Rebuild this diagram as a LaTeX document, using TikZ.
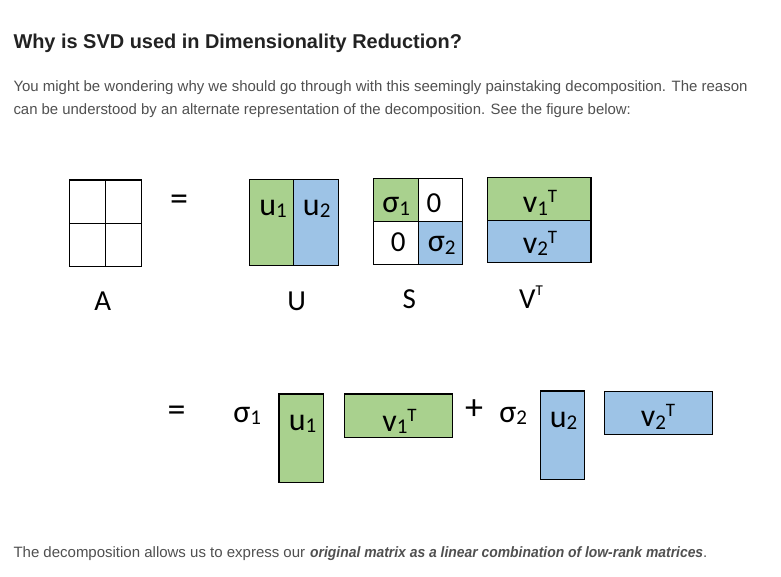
\documentclass[tikz,border=0pt]{standalone}
\usepackage{fontspec}
\setmainfont{Liberation Sans}
\newfontfamily\calfont{Carlito}
\usepackage{graphicx}
\definecolor{mgreen}{RGB}{169,209,142}
\definecolor{mblue}{RGB}{157,195,230}
\definecolor{bodygray}{RGB}{80,80,80}
\definecolor{headgray}{RGB}{34,34,34}
\newcommand\wfit[2]{\resizebox{#1pt}{\height}{#2}}
\newcommand\sbx[1]{\raisebox{-2.5pt}{\fontsize{21}{21}\selectfont #1}}
\newcommand\spx{\raisebox{10pt}{\fontsize{19}{19}\selectfont T}}
\tikzset{
  mat/.style={draw=black, line width=1.3pt},
  intext/.style={font=\calfont\fontsize{32}{32}\selectfont, inner sep=0, anchor=base},
  zerotext/.style={font=\calfont\fontsize{29}{29}\selectfont, inner sep=0, anchor=base},
  lbltext/.style={font=\calfont\fontsize{29}{29}\selectfont, inner sep=0, anchor=base},
  sym/.style={font=\calfont\fontsize{36}{36}\selectfont, inner sep=0, anchor=center},
  body/.style={font=\fontsize{15}{15}\selectfont, text=bodygray, inner sep=0, anchor=base west},
}
\begin{document}
\begin{tikzpicture}[x=1pt,y=-1pt]
\useasboundingbox[fill=white] (0,0) rectangle (781,576);
% heading and text
\node[inner sep=0, anchor=base west, text=headgray, font=\bfseries\fontsize{20}{20}\selectfont] (head) at (13.3,48.3)
  {\wfit{448.4}{Why is SVD used in Dimensionality Reduction?}};
\node[body] (l1) at (13.3,91.7) {\wfit{734}{You might be wondering why we should go through with this seemingly painstaking decomposition. The reason}};
\node[body] (l2) at (13.3,114.3) {\wfit{617.4}{can be understood by an alternate representation of the decomposition. See the figure below:}};
\node[body] (foot) at (13.3,557.7) {\wfit{291.7}{The decomposition allows us to express our}\hspace{5pt}\wfit{393}{\bfseries\itshape original matrix as a linear combination of low-rank matrices}.};
% A
\draw[mat] (69.3,180) rectangle (141.7,266.7);
\draw[mat] (105.3,180) -- (105.3,266.7);
\draw[mat] (69.3,223.3) -- (141.7,223.3);
\node[sym] (eq1) at (179,202.5) {=};
% U
\fill[mgreen] (249.3,179.3) rectangle (293.3,265.7);
\fill[mblue] (293.3,179.3) rectangle (338.3,265.7);
\draw[mat] (249.3,179.3) rectangle (338.3,265.7);
\draw[mat] (293.3,179.3) -- (293.3,265.7);
\node[intext] (u1) at (273,215) {u\sbx{1}};
\node[intext] (u2) at (316.7,215) {u\sbx{2}};
% S
\fill[mgreen] (373.3,178.3) rectangle (418.3,221.7);
\fill[mblue] (418.3,221.7) rectangle (462.3,264.3);
\draw[mat] (373.3,178.3) rectangle (462.3,264.3);
\draw[mat] (418.3,178.3) -- (418.3,264.3);
\draw[mat] (373.3,221.7) -- (462.3,221.7);
\node[intext] (s1) at (396.3,212.7) {σ\sbx{1}};
\node[zerotext] (z1) at (434,212.7) {0};
\node[zerotext] (z2) at (398.2,251.7) {0};
\node[intext] (s2) at (441.7,251.7) {σ\sbx{2}};
% VT
\fill[mgreen] (487.7,177.3) rectangle (591,220.7);
\fill[mblue] (487.7,220.7) rectangle (591,262.7);
\draw[mat] (487.7,177.3) rectangle (591,262.7);
\draw[mat] (487.7,220.7) -- (591,220.7);
\node[intext] (v1) at (540,212.7) {v\sbx{1}\spx};
\node[intext] (v2) at (540,253) {v\sbx{2}\spx};
% labels
\node[lbltext] (lA) at (102.8,310) {A};
\node[lbltext] (lU) at (296.7,310) {U};
\node[lbltext] (lS) at (409.3,308.3) {S};
\node[lbltext] (lV) at (531,308.3) {V\raisebox{12.5pt}{\fontsize{15}{15}\selectfont T}};
% second row
\node[sym] (eq2) at (176.7,413.3) {=};
\node[intext] (bs1) at (247.3,422) {σ\sbx{1}};
\fill[mgreen] (279,394) rectangle (323.3,482.3);
\draw[mat] (279,394) rectangle (323.3,482.3);
\node[intext] (bu1) at (302.5,430) {u\sbx{1}};
\fill[mgreen] (344.3,394) rectangle (452.6,437.3);
\draw[mat] (344.3,394) rectangle (452.6,437.3);
\node[intext] (bv1) at (399.5,431) {v\sbx{1}\spx};
\node[sym] (plus) at (474,410) {+};
\node[intext] (bs2) at (513.3,422.3) {σ\sbx{2}};
\fill[mblue] (540.7,391) rectangle (584.3,479.3);
\draw[mat] (540.7,391) rectangle (584.3,479.3);
\node[intext] (bu2) at (563.5,427.3) {u\sbx{2}};
\fill[mblue] (604.3,391.7) rectangle (712.3,434.3);
\draw[mat] (604.3,391.7) rectangle (712.3,434.3);
\node[intext] (bv2) at (658,426.7) {v\sbx{2}\spx};
\end{tikzpicture}
\end{document}
